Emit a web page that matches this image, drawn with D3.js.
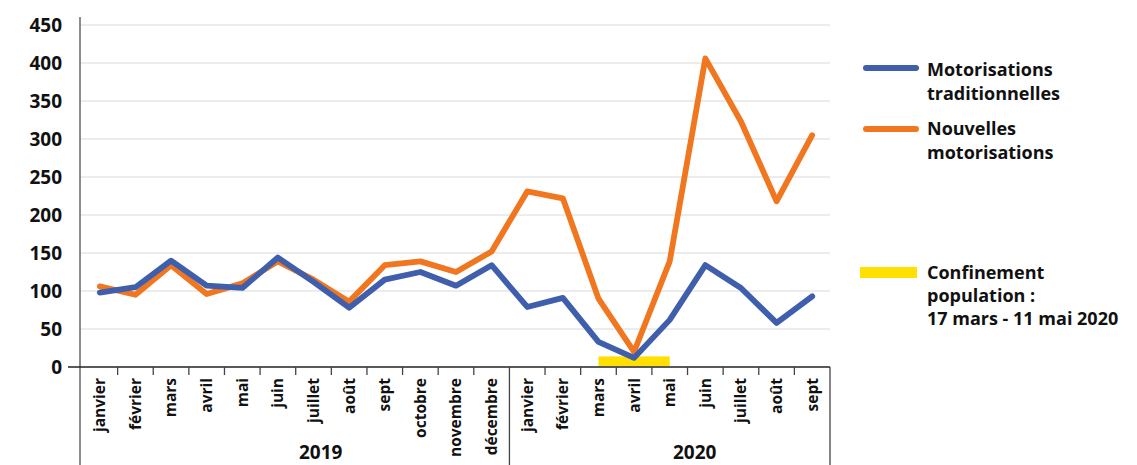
<!DOCTYPE html>
<html><head><meta charset="utf-8">
<script src="https://cdn.jsdelivr.net/npm/d3@7"></script>
<style>body{margin:0;background:#fff}svg{display:block}text{font-family:"Open Sans",sans-serif;font-weight:700;fill:#111}</style></head>
<body><svg id="c" width="1137" height="465"></svg>
<script>
const months2019 = ["janvier","février","mars","avril","mai","juin","juillet","août","sept","octobre","novembre","décembre"];
const months2020 = ["janvier","février","mars","avril","mai","juin","juillet","août","sept"];
const years = ["2019","2020"];
const traditionnelles = [98,105,140,107,104,144,112,78,115,125,107,134,79,91,33,12,62,134,104,58,93];
const nouvelles = [106,95,134,96,110,139,115,86,134,139,125,152,231,222,90,20,139,406,323,218,305];
const yTicks = [0,50,100,150,200,250,300,350,400,450];
const confinementRange = ["2020-mars","2020-mai"];
const confinementHeight = 14;
const seriesNames = ["Motorisations traditionnelles","Nouvelles motorisations"];

const cats = months2019.map(m=>"2019-"+m).concat(months2020.map(m=>"2020-"+m));
const svg = d3.select("#c");
const x = d3.scaleBand().domain(cats).range([82,830]).paddingInner(0).paddingOuter(0);
const y = d3.scaleLinear().domain([0,450]).range([367,25]);
const cx = c => x(c)+x.bandwidth()/2;

// gridlines
svg.append("g").selectAll("line").data(yTicks.filter(t=>t>0)).join("line")
  .attr("x1",80).attr("x2",830).attr("y1",d=>y(d)).attr("y2",d=>y(d))
  .attr("stroke","#d9d9d9").attr("stroke-width",1.2);

// y labels
svg.append("g").selectAll("text").data(yTicks).join("text")
  .attr("x",62).attr("y",d=>y(d)).attr("dy","0.36em").attr("text-anchor","end")
  .style("font-size","19px").text(d=>d);

// confinement bar
svg.append("rect").attr("x",cx(confinementRange[0])).attr("width",cx(confinementRange[1])-cx(confinementRange[0]))
  .attr("y",y(confinementHeight)).attr("height",y(0)-y(confinementHeight)-1).attr("fill","#FFE000");

// lines
const line = d3.line().x((d,i)=>cx(cats[i])).y(d=>y(d));
svg.append("path").datum(nouvelles).attr("d",line).attr("fill","none").attr("stroke","#F07720")
  .attr("stroke-width",5.8).attr("stroke-linejoin","round").attr("stroke-linecap","round");
svg.append("path").datum(traditionnelles).attr("d",line).attr("fill","none").attr("stroke","#3F5FAD")
  .attr("stroke-width",5.8).attr("stroke-linejoin","round").attr("stroke-linecap","round");

// axes lines
svg.append("line").attr("x1",80).attr("x2",80).attr("y1",17).attr("y2",465).attr("stroke","#666").attr("stroke-width",1.5);
svg.append("line").attr("x1",68).attr("x2",830).attr("y1",y(0)).attr("y2",y(0)).attr("stroke","#222").attr("stroke-width",1.5);
// ticks
const bounds = d3.range(1,cats.length+1).map(k=>82+k*x.bandwidth());
svg.append("g").selectAll("line").data(bounds).join("line")
  .attr("x1",d=>d).attr("x2",d=>d).attr("y1",y(0))
  .attr("y2",(d,i)=> (i===months2019.length-1 || i===cats.length-1) ? 465 : y(0)+8)
  .attr("stroke","#444").attr("stroke-width",1.3);

// x labels
svg.append("g").selectAll("text").data(cats).join("text")
  .attr("transform",d=>`translate(${cx(d)},378) rotate(-90)`)
  .attr("text-anchor","end").attr("dy","0.35em").style("font-size","15.5px")
  .text(d=>d.slice(5));

// year labels
const groups = [[cats[0],cats[11]],[cats[12],cats[20]]];
svg.append("g").selectAll("text").data(years).join("text")
  .attr("x",(d,i)=>(x(groups[i][0])+x(groups[i][1])+x.bandwidth())/2+25).attr("y",459)
  .attr("text-anchor","middle").style("font-size","19px").text(d=>d);

// legend
const lg = svg.append("g");
lg.append("line").attr("x1",866).attr("x2",916).attr("y1",68).attr("y2",68).attr("stroke","#3F5FAD").attr("stroke-width",6).attr("stroke-linecap","round");
lg.append("line").attr("x1",866).attr("x2",916).attr("y1",129).attr("y2",129).attr("stroke","#F07720").attr("stroke-width",6).attr("stroke-linecap","round");
lg.append("rect").attr("x",860).attr("y",267).attr("width",57).attr("height",11).attr("fill","#FFE000");
const legTexts = [["Motorisations",76],["traditionnelles",100],["Nouvelles",135],["motorisations",159],["Confinement",279],["population :",302],["17 mars - 11 mai 2020",325]];
lg.selectAll("text").data(legTexts).join("text").attr("x",927).attr("y",d=>d[1])
  .style("font-size","18px").text(d=>d[0]);
</script></body></html>
